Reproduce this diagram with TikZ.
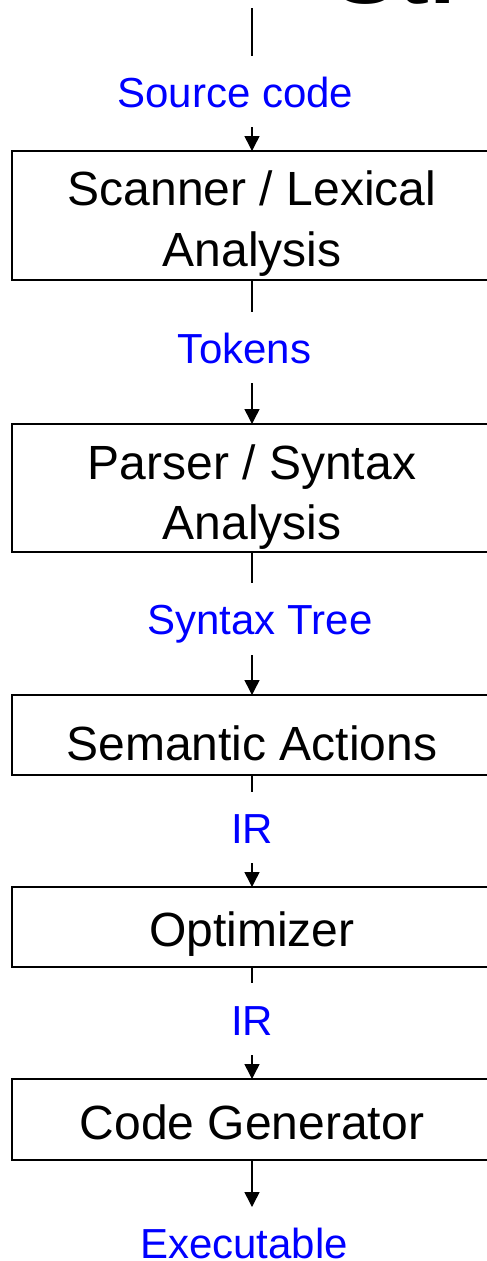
\documentclass[tikz,border=0pt]{standalone}
\usepackage{fontspec}
\setmainfont{Liberation Sans}
\usetikzlibrary{arrows.meta}
\definecolor{lblue}{RGB}{0,0,255}
\tikzset{
  stage/.style={draw=black, line width=2pt, minimum width=480pt, inner sep=0pt, outer sep=0pt},
  stagetext/.style={inner sep=0pt, anchor=base, font=\fontsize{48}{58}\selectfont},
  flowlabel/.style={text=lblue, inner sep=0pt, anchor=base, font=\fontsize{42}{48}\selectfont},
  conn/.style={line width=1.5pt, draw=black},
  arr/.style={conn, -{Triangle[width=15pt,length=15pt]}},
  titletext/.style={anchor=base west, inner sep=0pt, font=\bfseries\fontsize{96}{96}\selectfont}
}
\begin{document}
\begin{tikzpicture}[x=1pt,y=-1pt]
\useasboundingbox (0,0) rectangle (487,1261);
\clip (0,0) rectangle (487,1261);
\fill[white] (0,0) rectangle (487,1261);
% title fragment
\node[titletext] (title) at (333,3) {Str};
% boxes
\node[stage, minimum height=129pt] (b1) at (252,215.5) {};
\node[stage, minimum height=128pt] (b2) at (252,488) {};
\node[stage, minimum height=80pt] (b3) at (252,735) {};
\node[stage, minimum height=80pt] (b4) at (252,927) {};
\node[stage, minimum height=81pt] (b5) at (252,1119.5) {};
% box texts
\node[stagetext] (t1a) at (252,205) {Scanner / Lexical};
\node[stagetext] (t1b) at (252,266) {Analysis};
\node[stagetext] (t2a) at (252,479) {Parser / Syntax};
\node[stagetext] (t2b) at (252,539) {Analysis};
\node[stagetext] (t3) at (252,760) {Semantic Actions};
\node[stagetext] (t4) at (252,946) {Optimizer};
\node[stagetext] (t5) at (252,1139) {Code Generator};
% labels
\node[flowlabel] (l0) at (235.5,107) {Source code};
\node[flowlabel] (l1) at (244.5,363) {Tokens};
\node[flowlabel] (l2) at (260,634) {Syntax Tree};
\node[flowlabel] (l3) at (252,843) {IR};
\node[flowlabel] (l4) at (252,1035) {IR};
\node[flowlabel] (l5) at (244,1258) {Executable};
% connector end points
\coordinate (s0) at (252,8);
\coordinate (e0) at (252,56);
\coordinate (a0) at (252,127);
\coordinate (e1) at (252,312);
\coordinate (a1) at (252,383);
\coordinate (e2) at (252,583);
\coordinate (a2) at (252,655);
\coordinate (e3) at (252,792);
\coordinate (a3) at (252,863);
\coordinate (e4) at (252,983);
\coordinate (a4) at (252,1055);
\coordinate (e5) at (252,1207);
% connectors
\draw[conn] (s0) -- (e0);
\draw[arr] (a0) -- (b1.north);
\draw[conn] (b1.south) -- (e1);
\draw[arr] (a1) -- (b2.north);
\draw[conn] (b2.south) -- (e2);
\draw[arr] (a2) -- (b3.north);
\draw[conn] (b3.south) -- (e3);
\draw[arr] (a3) -- (b4.north);
\draw[conn] (b4.south) -- (e4);
\draw[arr] (a4) -- (b5.north);
\draw[arr] (b5.south) -- (e5);
\end{tikzpicture}
\end{document}
